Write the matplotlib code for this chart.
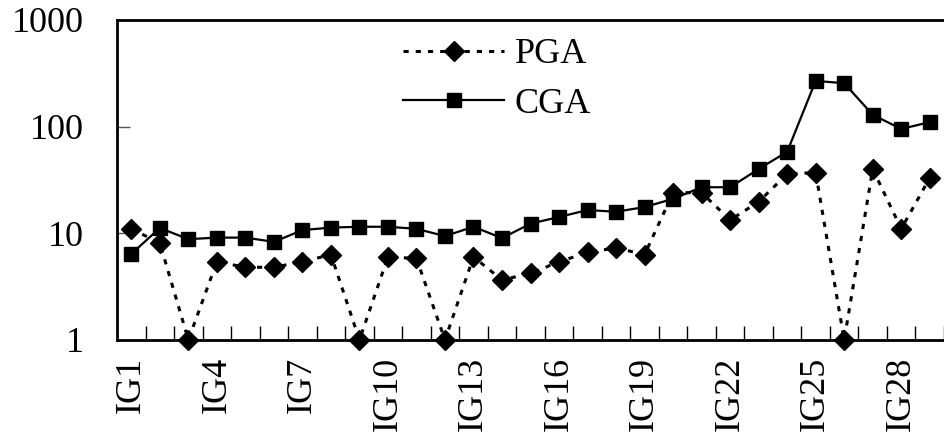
import matplotlib
matplotlib.use("Agg")
import matplotlib.pyplot as plt
import numpy as np

categories = [f"IG{i}" for i in range(1, 30)]
pga = [11, 8.1, 1, 5.4, 4.8, 4.8, 5.4, 6.3, 1, 6.0, 5.8, 1, 6.0, 3.65, 4.2,
       5.4, 6.6, 7.3, 6.3, 24, 24, 13.3, 19.7, 36, 37, 1, 40, 11, 33]
cga = [6.4, 11.2, 8.8, 9.1, 9.1, 8.3, 10.7, 11.3, 11.5, 11.5, 11, 9.4, 11.5, 9.0, 12.3,
       14.2, 16.5, 15.9, 17.6, 21, 27, 27, 40, 58, 268, 255, 129, 95, 110]
labeled = categories[::3]

plt.rcParams['font.family'] = ['Liberation Serif', 'DejaVu Serif']

fig = plt.figure(figsize=(9.44, 4.33), dpi=100)
ax = fig.add_axes([0.124, 0.215, 0.876, 0.739])

x = np.arange(1, len(categories) + 1)
ax.plot(x, pga, color='black', linestyle=(0, (1.7, 2.3)), linewidth=2.2,
        marker='D', markersize=10, label='PGA', clip_on=False, zorder=3)
ax.plot(x, cga, color='black', linestyle='-', linewidth=1.6,
        marker='s', markersize=10, label='CGA', clip_on=False, zorder=3)

ax.set_yscale('log')
ax.set_ylim(1, 1000)
ax.set_yticks([1, 10, 100, 1000])
ax.set_yticklabels(['1', '10', '100', '1000'])
ax.yaxis.set_minor_locator(matplotlib.ticker.NullLocator())
ax.tick_params(axis='y', which='major', direction='in', length=9, width=1,
               labelsize=26, pad=24, color='#555555')

ax.set_xlim(0.5, 0.5 + (944 - 117) / 28.7)
lab_pos = [x[i] for i in range(0, len(categories), 3)]
ax.set_xticks(lab_pos)
ax.set_xticklabels(labeled, rotation=90)
ax.set_xticks(np.arange(1.5, len(categories) + 1.5, 1.0), minor=True)
ax.tick_params(axis='x', which='major', length=0, labelsize=26, pad=12)
ax.tick_params(axis='x', which='minor', direction='in', length=10, width=1)

for s in ['left', 'bottom', 'top']:
    ax.spines[s].set_linewidth(2)
ax.spines['right'].set_visible(False)

leg = ax.legend(loc='upper left', bbox_to_anchor=(403 / 944, 1 - 38 / 433),
                bbox_transform=fig.transFigure, frameon=False, fontsize=26,
                handlelength=2.8, handletextpad=0.3, labelspacing=0.45,
                borderpad=0, borderaxespad=0)

fig.savefig('out.png', dpi=100)
